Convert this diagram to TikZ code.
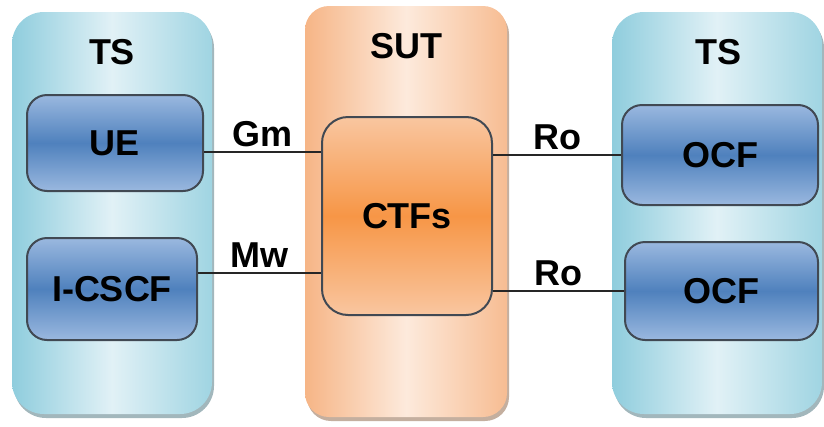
\documentclass[tikz,border=0pt]{standalone}
\usepackage{fontspec}
\setmainfont{Liberation Sans}
\usetikzlibrary{calc,shadows}
\definecolor{tsdark}{HTML}{8FCDDD}
\definecolor{tslight}{HTML}{E1F1F6}
\definecolor{sutdark}{HTML}{F6B586}
\definecolor{sutlight}{HTML}{FDEADC}
\definecolor{boxblue}{HTML}{4F81BD}
\definecolor{boxbluelt}{HTML}{9AB8DF}
\definecolor{boxorange}{HTML}{F79646}
\definecolor{boxorangelt}{HTML}{F9C6A0}
\definecolor{edgegray}{HTML}{414953}

\begin{document}
\begin{tikzpicture}[x=1pt, y=-1pt,
    font=\fontsize{36}{40}\selectfont\bfseries,
    tsbox/.style={rectangle, rounded corners=32pt, inner sep=0pt,
      left color=tsdark, right color=tsdark!85!white, middle color=tslight,
      drop shadow={shadow xshift=2pt, shadow yshift=-4pt, fill=tsdark!60!black, opacity=.55}},
    sutbox/.style={rectangle, rounded corners=24pt, inner sep=0pt,
      left color=sutdark, right color=sutdark!90!white, middle color=sutlight,
      drop shadow={shadow xshift=2pt, shadow yshift=-4pt, fill=sutdark!60!black, opacity=.55}},
    funcbox/.style={rectangle, rounded corners=20pt, inner sep=0pt,
      draw=edgegray, line width=2pt,
      top color=boxbluelt, bottom color=boxbluelt, middle color=boxblue},
    ctfbox/.style={funcbox, rounded corners=26pt,
      top color=boxorangelt, bottom color=boxorangelt, middle color=boxorange},
    link/.style={draw=black!85, line width=1.6pt},
    lbl/.style={above=1pt}]
  \useasboundingbox (0,0) rectangle (824,426);

  \node[tsbox, minimum width=200pt, minimum height=402pt] (tsleft) at (112,213) {};
  \node[sutbox, minimum width=202pt, minimum height=411pt] (sut) at (406,211.5) {};
  \node[tsbox, minimum width=210pt, minimum height=402pt] (tsright) at (717,213) {};

  \node (tsleftlab) at (112,52) {TS};
  \node (sutlab) at (406,46) {SUT};
  \node (tsrightlab) at (718,52) {TS};

  \node[funcbox, minimum width=176pt, minimum height=96pt] (ue) at (115,143) {UE};
  \node[funcbox, minimum width=170pt, minimum height=102pt] (icscf) at (112,289) {I-CSCF};
  \node[ctfbox, minimum width=170pt, minimum height=198pt] (ctfs) at (407,216) {CTFs};
  \node[funcbox, minimum width=196pt, minimum height=100pt] (ocfa) at (720,155) {OCF};
  \node[funcbox, minimum width=193pt, minimum height=98pt] (ocfb) at (721.5,291) {OCF};

  \draw[link] ([yshift=-9pt]ue.east) -- ([yshift=-9pt]ue.east -| ctfs.west)
    node[midway, lbl] {Gm};
  \draw[link] ([yshift=16pt]icscf.east) -- ([yshift=16pt]icscf.east -| ctfs.west)
    node[midway, lbl] {Mw};
  \draw[link] (ctfs.east |- ocfa.west) -- (ocfa.west) node[midway, lbl] {Ro};
  \draw[link] (ctfs.east |- ocfb.west) -- (ocfb.west) node[midway, lbl] {Ro};
\end{tikzpicture}
\end{document}
